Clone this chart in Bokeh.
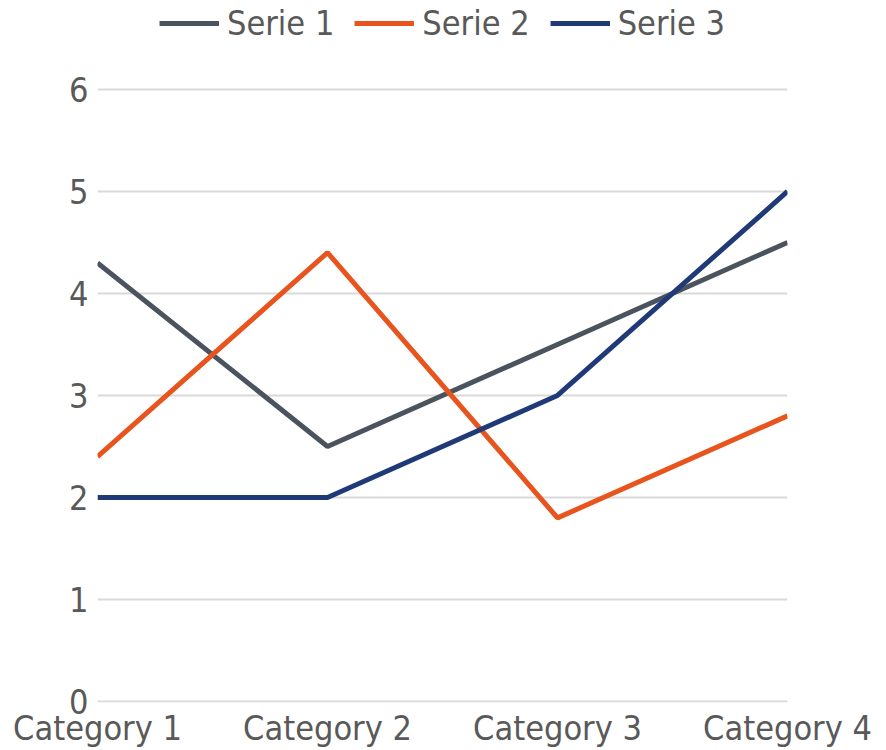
from bokeh.plotting import figure
from bokeh.models import Legend, LegendItem, FixedTicker, Range1d
from bokeh.embed import file_html
from bokeh.resources import INLINE

categories = ["Category 1", "Category 2", "Category 3", "Category 4"]
serie1 = [4.3, 2.5, 3.5, 4.5]
serie2 = [2.4, 4.4, 1.8, 2.8]
serie3 = [2.0, 2.0, 3.0, 5.0]
series_names = ["Serie 1", "Serie 2", "Serie 3"]
colors = ["#4b545e", "#e8541e", "#203a78"]
y_ticks = [0, 1, 2, 3, 4, 5, 6]

FONT = "DejaVu Sans Condensed"
TXT = "#595959"

xs = list(range(len(categories)))

p = figure(width=886, height=750, output_backend="svg", toolbar_location=None,
           x_range=Range1d(0, len(categories) - 1), y_range=Range1d(-0.01, 6.872),
           min_border_left=97, min_border_right=99, min_border_top=0, min_border_bottom=48)
p.outline_line_color = None
p.xgrid.grid_line_color = None
p.ygrid.grid_line_color = "#d9d9d9"
p.ygrid.grid_line_width = 2

p.yaxis.ticker = FixedTicker(ticks=y_ticks)
p.xaxis.ticker = FixedTicker(ticks=xs)
p.xaxis.major_label_overrides = {i: c for i, c in enumerate(categories)}
for ax in (p.xaxis, p.yaxis):
    ax.axis_line_color = None
    ax.major_tick_line_color = None
    ax.minor_tick_line_color = None
    ax.major_tick_out = 0
    ax.major_tick_in = 0
    ax.major_label_text_font = FONT
    ax.major_label_text_font_size = "34px"
    ax.major_label_text_color = TXT
p.yaxis.major_label_standoff = 9
p.xaxis.major_label_standoff = 5

renderers = []
for name, ys, c in zip(series_names, [serie1, serie2, serie3], colors):
    r = p.line(xs, ys, line_color=c, line_width=5)
    renderers.append(r)

legend = Legend(items=[LegendItem(label=n, renderers=[r]) for n, r in zip(series_names, renderers)],
                orientation="horizontal", location="top_center",
                label_text_font=FONT, label_text_font_size="34px", label_text_color=TXT,
                glyph_width=60, glyph_height=30, label_standoff=8, spacing=20,
                background_fill_alpha=0, border_line_color=None, padding=0, margin=3)
p.add_layout(legend, "center")

open("out.html", "w").write(file_html(p, INLINE))
